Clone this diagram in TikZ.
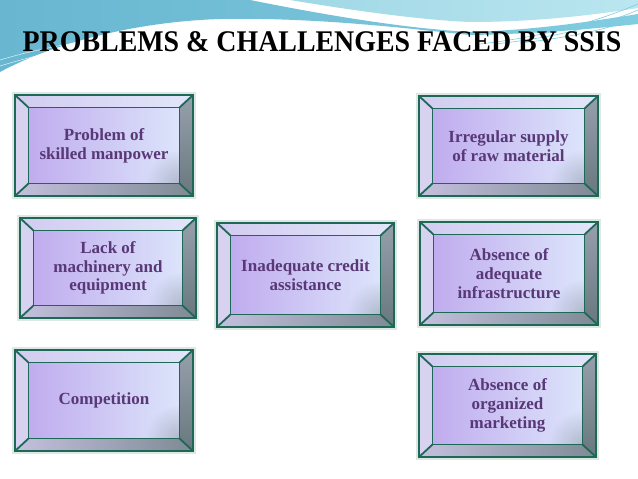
\documentclass[tikz,border=0pt]{standalone}
\usepackage{fontspec}
\setmainfont{Liberation Serif}
\usetikzlibrary{fadings}
\tikzfading[name=cornerfade, inner color=transparent!45, outer color=transparent!100]
\definecolor{bgA}{RGB}{104,182,208}
\definecolor{bgB}{RGB}{128,204,224}
\definecolor{bgC}{RGB}{160,216,230}
\definecolor{bgD}{RGB}{186,230,239}
\definecolor{edgec}{RGB}{30,104,88}
\definecolor{glowc}{RGB}{200,218,208}
\definecolor{txtc}{RGB}{88,56,118}
\definecolor{faceL}{RGB}{192,172,238}
\definecolor{faceR}{RGB}{220,228,251}
\definecolor{topL}{RGB}{210,204,240}
\definecolor{topR}{RGB}{226,230,250}
\definecolor{leftB}{RGB}{214,210,240}
\definecolor{rightT}{RGB}{150,160,172}
\definecolor{rightB}{RGB}{104,120,126}
\definecolor{botL}{RGB}{196,192,222}
\definecolor{botR}{RGB}{126,138,148}
\definecolor{cornerc}{RGB}{140,150,165}
\tikzset{
  edgeline/.style={draw=edgec, line width=1.8pt, line join=miter},
  outerline/.style={draw=edgec, line width=2.6pt, line join=miter},
  glowline/.style={draw=glowc, line width=6pt, opacity=0.6},
  boxtext/.style={align=center, text=txtc, font=\fontsize{17}{18.8}\selectfont\bfseries, inner sep=0pt},
  titletext/.style={font=\fontsize{30}{30}\selectfont\bfseries, text=black, xscale=0.93, anchor=base, inner sep=0pt},
  streak/.style={draw=white, line width=0.6pt, opacity=0.7},
  bluestreak/.style={draw=bgB, line width=0.6pt}
}
\newcommand\bevbox[6]{%
  \pgfmathsetmacro\bxa{#2}\pgfmathsetmacro\bya{#3}%
  \pgfmathsetmacro\bxb{#4}\pgfmathsetmacro\byb{#5}%
  \pgfmathsetmacro\bxA{#2+13.5}\pgfmathsetmacro\byA{#3+12.5}%
  \pgfmathsetmacro\bxB{#4-13.5}\pgfmathsetmacro\byB{#5-12.5}%
  \coordinate (#1-nw) at (\bxa,\bya);
  \coordinate (#1-ne) at (\bxb,\bya);
  \coordinate (#1-se) at (\bxb,\byb);
  \coordinate (#1-sw) at (\bxa,\byb);
  \coordinate (#1-NW) at (\bxA,\byA);
  \coordinate (#1-NE) at (\bxB,\byA);
  \coordinate (#1-SE) at (\bxB,\byB);
  \coordinate (#1-SW) at (\bxA,\byB);
  \draw[glowline] (#1-nw) rectangle (#1-se);
  \shade[left color=topL, right color=topR] (#1-nw) -- (#1-ne) -- (#1-NE) -- (#1-NW) -- cycle;
  \fill[leftB] (#1-nw) -- (#1-NW) -- (#1-SW) -- (#1-sw) -- cycle;
  \shade[top color=rightT, bottom color=rightB] (#1-ne) -- (#1-se) -- (#1-SE) -- (#1-NE) -- cycle;
  \shade[left color=botL, right color=botR] (#1-sw) -- (#1-SW) -- (#1-SE) -- (#1-se) -- cycle;
  \shade[left color=faceL, right color=faceR] (#1-NW) rectangle (#1-SE);
  \begin{scope}
    \clip (#1-NW) rectangle (#1-SE);
    \fill[cornerc, path fading=cornerfade] (#1-SE) circle (34);
  \end{scope}
  \draw[edgeline] (#1-nw) -- (#1-NW) (#1-ne) -- (#1-NE) (#1-se) -- (#1-SE) (#1-sw) -- (#1-SW);
  \draw[edgeline] (#1-NW) rectangle (#1-SE);
  \draw[outerline] (#1-nw) rectangle (#1-se);
  \node[boxtext] (#1) at ({(\bxa+\bxb)/2},{(\bya+\byb)/2}) {#6};
}
\begin{document}
\begin{tikzpicture}[x=1pt,y=-1pt]
\useasboundingbox (0,0) rectangle (638,479);
\fill[white] (0,0) rectangle (638,479);
% background swoosh: light cyan top right
\shade[left color=bgC, right color=bgD]
  (290,0) -- (638,0) -- (638,8)
  .. controls (600,14) and (540,22) .. (470,22)
  .. controls (420,20) and (350,10) .. (290,0) -- cycle;
% blue band from the left
\shade[left color=bgA, right color=bgB]
  (0,0) -- (250,0)
  .. controls (320,14) and (400,28) .. (470,32)
  .. controls (540,30) and (600,20) .. (638,14)
  -- (638,24)
  .. controls (600,28) and (540,34) .. (470,35)
  .. controls (420,30) and (320,17) .. (220,19)
  .. controls (130,22) and (50,45) .. (0,72) -- cycle;
\draw[streak] (0,66) .. controls (90,38) and (200,30) .. (330,34);
\draw[streak] (0,60) .. controls (80,36) and (180,28) .. (300,30);
\draw[bluestreak] (480,44) .. controls (550,36) and (600,20) .. (638,4);
\draw[bluestreak] (495,44) .. controls (560,37) and (605,24) .. (638,10);
\draw[bluestreak] (520,43) .. controls (575,37) and (610,28) .. (638,18);
% title
\node[titletext] (title) at (322,52) {PROBLEMS \& CHALLENGES FACED BY SSIS};
% boxes
\bevbox{b1}{15}{95}{193}{196}{Problem of\\skilled manpower}
\bevbox{b2}{20}{218}{196}{318}{Lack of\\machinery and\\equipment}
\bevbox{b3}{15}{350}{193}{451}{Competition}
\bevbox{b4}{217}{223}{394}{327}{Inadequate credit\\assistance}
\bevbox{b5}{419}{96}{598}{196}{Irregular supply\\of raw material}
\bevbox{b6}{420}{222}{598}{325}{Absence of\\adequate\\infrastructure}
\bevbox{b7}{419}{354}{596}{457}{Absence of\\organized\\marketing}
\end{tikzpicture}
\end{document}
